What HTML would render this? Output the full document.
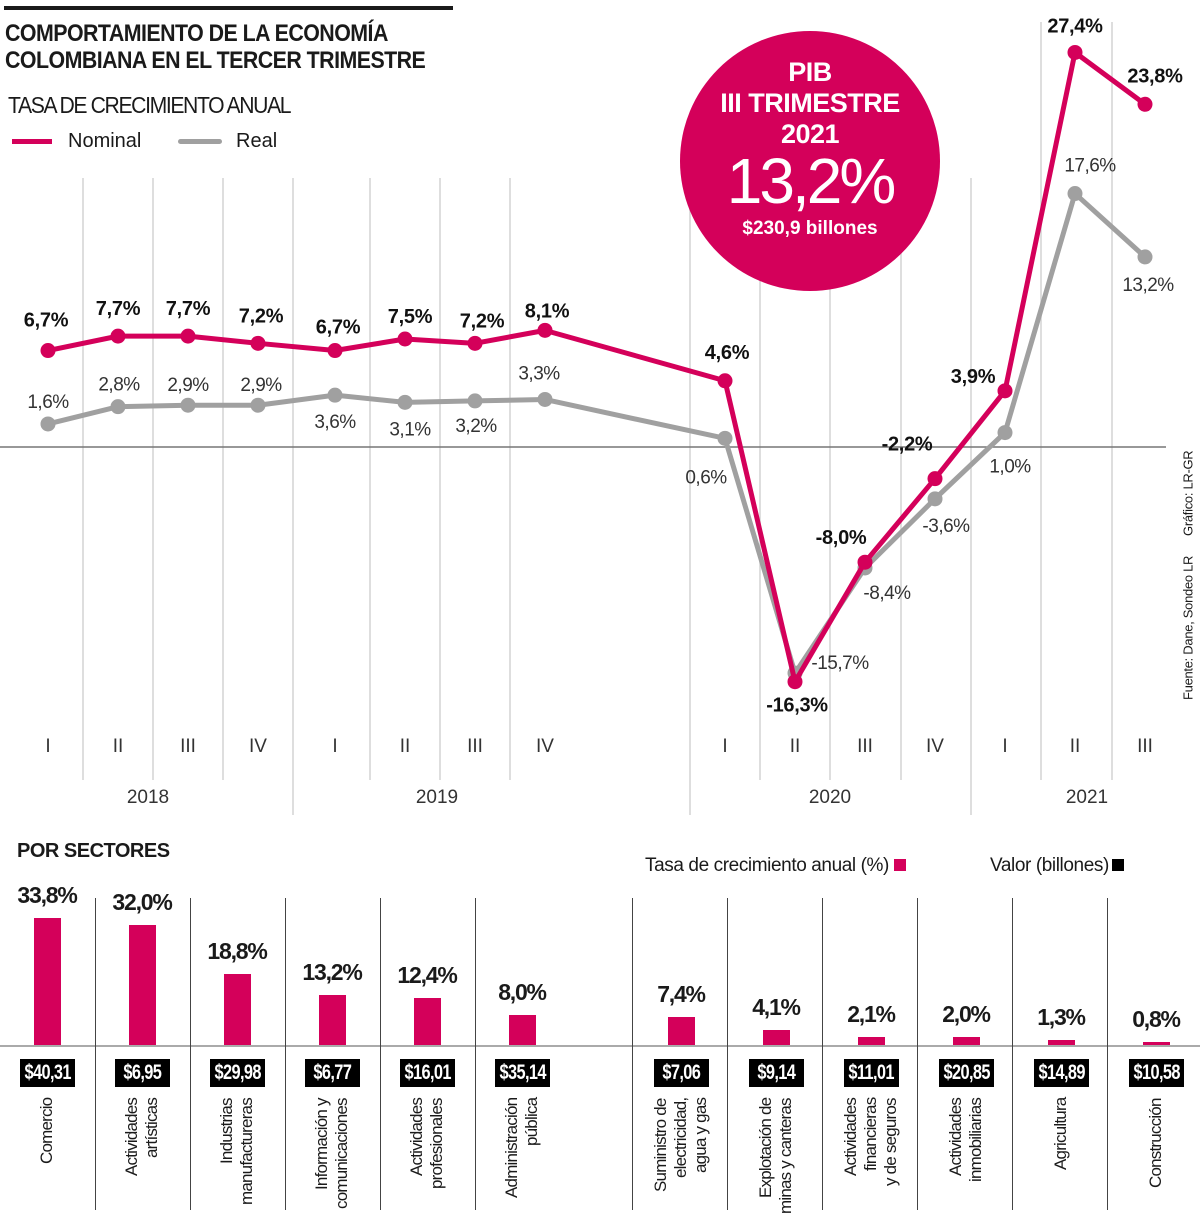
<!DOCTYPE html>
<html><head><meta charset="utf-8">
<style>
html,body{margin:0;padding:0;background:#fff;}
body{width:1200px;height:1210px;position:relative;overflow:hidden;font-family:"Liberation Sans",sans-serif;color:#1a1a1a;}
.abs{position:absolute;}
.title{left:5px;top:20px;font-weight:bold;font-size:24px;line-height:27px;letter-spacing:-0.6px;transform:scaleX(0.89);transform-origin:left top;white-space:nowrap;}
.rot{position:absolute;writing-mode:vertical-rl;transform:translateX(-50%) rotate(180deg);text-align:end;height:120px;top:1098px;font-size:17px;line-height:20px;letter-spacing:-0.8px;white-space:nowrap;}
</style></head><body>
<div class="abs" style="left:4px;top:6px;width:449px;height:4px;background:#1a1a1a"></div>
<div class="abs title">COMPORTAMIENTO DE LA ECONOMÍA<br>COLOMBIANA EN EL TERCER TRIMESTRE</div>
<div class="abs" style="left:8px;top:92px;font-size:23px;letter-spacing:-1.5px;transform:scaleX(0.92);transform-origin:left top;white-space:nowrap;">TASA DE CRECIMIENTO ANUAL</div>
<div class="abs" style="left:12px;top:130px;font-size:20px;"><span style="display:inline-block;width:40px;height:5px;background:#d4005a;vertical-align:middle;margin-right:16px"></span>Nominal</div>
<div class="abs" style="left:178px;top:130px;font-size:20px;"><span style="display:inline-block;width:44px;height:5px;background:#a0a0a0;border-radius:3px;vertical-align:middle;margin-right:14px"></span>Real</div>

<svg class="abs" style="left:0;top:0" width="1200" height="830">
<g id="grid"></g><g id="lines"></g><g id="labels"></g>
</svg>

<div class="abs" style="left:680px;top:31px;width:260px;height:260px;border-radius:50%;background:#d4005a;color:#fff;text-align:center;">
<div style="font-weight:bold;font-size:27px;line-height:31px;margin-top:26px;letter-spacing:-0.5px;">PIB<br>III TRIMESTRE<br>2021</div>
<div style="font-size:64px;line-height:66px;letter-spacing:-3px;margin-top:-2px;">13,2%</div>
<div style="font-weight:bold;font-size:19px;margin-top:4px;">$230,9 billones</div>
</div>

<div class="abs" style="left:1188px;top:430px;writing-mode:vertical-rl;transform:translateX(-50%) rotate(180deg);font-size:13px;white-space:nowrap;height:270px;letter-spacing:-0.3px;">Fuente: Dane, Sondeo LR&nbsp;&nbsp;&nbsp;&nbsp;&nbsp;&nbsp;Gráfico: LR-GR</div>

<div class="abs" style="left:17px;top:840px;font-weight:bold;font-size:20px;letter-spacing:-0.5px;">POR SECTORES</div>
<div class="abs" style="left:645px;top:855px;font-size:19px;letter-spacing:-0.4px;">Tasa de crecimiento anual (%) <span style="display:inline-block;width:12px;height:12px;background:#d4005a"></span></div>
<div class="abs" style="left:990px;top:855px;font-size:19px;letter-spacing:-0.4px;">Valor (billones)<span style="display:inline-block;width:12px;height:12px;background:#000;margin-left:3px"></span></div>
<div id="bars"></div>

<script>
const quarters=["I","II","III","IV","I","II","III","IV","I","II","III","IV","I","II","III"];
const nominal=[6.7,7.7,7.7,7.2,6.7,7.5,7.2,8.1,4.6,-16.3,-8.0,-2.2,3.9,27.4,23.8];
const real=[1.6,2.8,2.9,2.9,3.6,3.1,3.2,3.3,0.6,-15.7,-8.4,-3.6,1.0,17.6,13.2];
const years=["2018","2019","2020","2021"];
const sectors=["Comercio","Actividades<br>artísticas","Industrias<br>manufactureras","Información y<br>comunicaciones","Actividades<br>profesionales","Administración<br>pública","Suministro de<br>electricidad,<br>agua y gas","Explotación de<br>minas y canteras","Actividades<br>financieras<br>y de seguros","Actividades<br>inmobiliarias","Agricultura","Construcción"];
const rates=[33.8,32.0,18.8,13.2,12.4,8.0,7.4,4.1,2.1,2.0,1.3,0.8];
const values=["$40,31","$6,95","$29,98","$6,77","$16,01","$35,14","$7,06","$9,14","$11,01","$20,85","$14,89","$10,58"];

const NS="http://www.w3.org/2000/svg";
const xq=i=>i<8?48+i*70+(i>=4?7:0):725+(i-8)*70;
const y=v=>447-v*14.4;
const fmt=v=>v.toFixed(1).replace('.',',')+'%';
function mk(tag,attrs,parent){const e=document.createElementNS(NS,tag);for(const k in attrs)e.setAttribute(k,attrs[k]);parent.appendChild(e);return e;}
const grid=document.getElementById('grid'),lines=document.getElementById('lines'),labels=document.getElementById('labels');
const gx=[83,153,223,293,370,440,510,690,760,830,901,971,1041,1112];
const sep=[293,690,971];
gx.forEach(x=>{const l=mk('line',{x1:x,x2:x,y1:(x>1030?22:178),y2:(sep.includes(x)?815:780),stroke:'#d4d4d4','stroke-width':1.5},grid);});
const zl=mk('line',{x1:0,x2:1166,y1:y(0),y2:y(0),stroke:'#777','stroke-width':1.5},grid);

quarters.forEach((q,i)=>{const t=mk('text',{x:xq(i),y:752,'text-anchor':'middle','font-size':19,fill:'#333','font-family':'Liberation Sans, sans-serif'},labels);t.textContent=q;});
const yx=[148,437,830,1087];
years.forEach((yr,i)=>{const t=mk('text',{x:yx[i],y:803,'text-anchor':'middle','font-size':19,fill:'#333','font-family':'Liberation Sans, sans-serif'},labels);t.textContent=yr;});
function series(data,color,name){
  const pts=data.map((v,i)=>xq(i)+','+y(v)).join(' ');
  const p=mk('polyline',{points:pts,fill:'none',stroke:color,'stroke-width':5,'stroke-linejoin':'round'},lines);
  
  data.forEach((v,i)=>{const c=mk('circle',{cx:xq(i),cy:y(v),r:7.5,fill:color},lines);});
}
series(real,'#a0a0a0','real');
series(nominal,'#d4005a','nominal');
const nOff=[[-2,-24],[0,-21],[0,-21],[3,-21],[3,-17],[5,-16],[7,-16],[2,-13],[2,-22],[2,30],[-24,-18],[-28,-28],[-32,-8],[0,-20],[10,-22]];
const rOff=[[0,-16],[1,-16],[0,-14],[3,-14],[0,33],[5,33],[1,31],[-6,-20],[-19,45],[45,-4],[22,31],[11,33],[5,40],[15,-22],[3,34]];
nominal.forEach((v,i)=>{const t=mk('text',{x:xq(i)+nOff[i][0],y:y(v)+nOff[i][1],'text-anchor':'middle','font-size':20,'font-weight':'bold',fill:'#111','font-family':'Liberation Sans, sans-serif','letter-spacing':'-0.3'},labels);t.textContent=fmt(v);});
real.forEach((v,i)=>{const t=mk('text',{x:xq(i)+rOff[i][0],y:y(v)+rOff[i][1],'text-anchor':'middle','font-size':19,fill:'#333','font-family':'Liberation Sans, sans-serif','letter-spacing':'-0.5'},labels);t.textContent=fmt(v);});

// bar chart
const bars=document.getElementById('bars');
const bx=i=>i<6?47+i*95:681+(i-6)*95;
const by=v=>v*3.76;
const base=document.createElement('div');


base.style.cssText='position:absolute;left:0;top:1045px;width:1200px;height:2px;background:#aaa';
bars.appendChild(base);
[95,190,285,380,475,632,727,822,917,1012,1107].forEach(x=>{const d=document.createElement('div');


d.style.cssText='position:absolute;left:'+x+'px;top:898px;width:1px;height:312px;background:#444';bars.appendChild(d);});
rates.forEach((r,i)=>{
  const h=by(r);
  const b=document.createElement('div');
  
  
  b.style.cssText='position:absolute;left:'+(bx(i)-13)+'px;top:'+(1045-h)+'px;width:27px;height:'+h+'px;background:#d4005a';
  bars.appendChild(b);
  const t=document.createElement('div');
  
  
  t.style.cssText='position:absolute;left:'+(bx(i)-50)+'px;width:100px;text-align:center;top:'+(1045-h-36)+'px;font-weight:bold;font-size:23px;letter-spacing:-1.2px';
  t.textContent=fmt(r);bars.appendChild(t);
  const v=document.createElement('div');
  
  
  v.style.cssText='position:absolute;left:'+(bx(i)-27)+'px;top:1059px;width:55px;height:28px;background:#000;color:#fff;font-weight:bold;line-height:28px;text-align:center;overflow:hidden;white-space:nowrap';
  const sp=document.createElement('span');
  sp.style.cssText='display:inline-block;font-size:21px;letter-spacing:-0.8px;transform:scaleX(0.78);margin:0 -20px';
  sp.textContent=values[i];v.appendChild(sp);bars.appendChild(v);
  const s=document.createElement('div');
  
  
  s.className='rot';s.style.left=bx(i)+'px';s.innerHTML=sectors[i];bars.appendChild(s);
});
</script>
</body></html>
